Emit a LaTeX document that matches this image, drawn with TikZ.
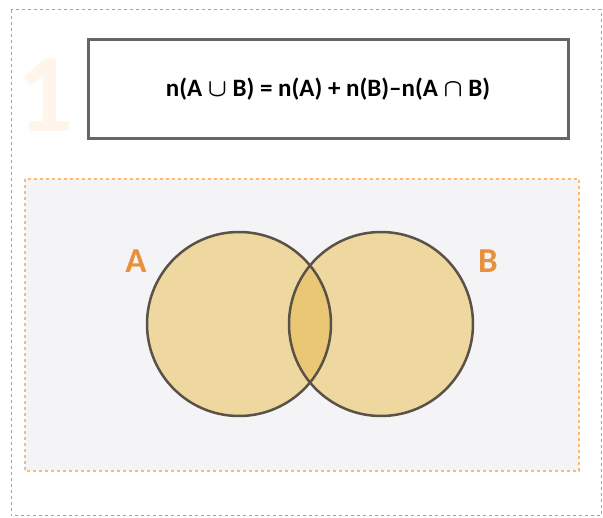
\documentclass[tikz,border=0pt]{standalone}
\usepackage{fontspec}
\setmainfont{Carlito}
\usetikzlibrary{positioning, calc}

\definecolor{setfill}{HTML}{EFD7A0}
\definecolor{capfill}{HTML}{EAC774}
\definecolor{setline}{HTML}{5B5247}
\definecolor{labelorange}{HTML}{E8913C}
\definecolor{panelgray}{HTML}{F4F4F6}
\definecolor{framegray}{HTML}{9AA3AD}

\tikzset{
  setcircle/.style={circle, minimum size=184pt, inner sep=0pt},
  setlabel/.style={font=\bfseries\fontsize{35}{35}\selectfont, text=labelorange},
}

\begin{document}
\begin{tikzpicture}[x=1pt, y=-1pt]
    \useasboundingbox (0,0) rectangle (603,518);

    % Outer frame
    \draw[framegray, line width=1pt, dash pattern=on 3pt off 3pt] (11,10) rectangle (601,516);

    % Faint step number
    \node[font=\bfseries\fontsize{112}{112}\selectfont, text=orange!8] (num) at (45,95) {1};

    % Formula box
    \node[draw=gray!80!black, line width=3pt, minimum width=480pt, minimum height=99pt,
          font=\bfseries\boldmath\fontsize{25}{26}\selectfont, inner sep=0pt] (rule) at (328,89.5)
          {n(A $\cup$ B) = n(A) + n(B)–n(A $\cap$ B)};

    % Panel
    \draw[fill=panelgray, draw=orange!55, line width=1.2pt, dash pattern=on 3pt off 3pt] (25,179) rectangle (579,471);

    % Sets
    \node[setcircle, fill=setfill] (setA) at (239,324) {};
    \node[setcircle, fill=setfill] (setB) at (381,324) {};
    \begin{scope}
        \clip (setA.center) circle (92pt);
        \fill[capfill] (setB.center) circle (92pt);
    \end{scope}
    \draw[setline, line width=2.5pt] (setA.center) circle (92pt);
    \draw[setline, line width=2.5pt] (setB.center) circle (92pt);

    % Labels
    \node[setlabel] (labA) at (136,261) {A};
    \node[setlabel] (labB) at (488,261) {B};
\end{tikzpicture}
\end{document}
